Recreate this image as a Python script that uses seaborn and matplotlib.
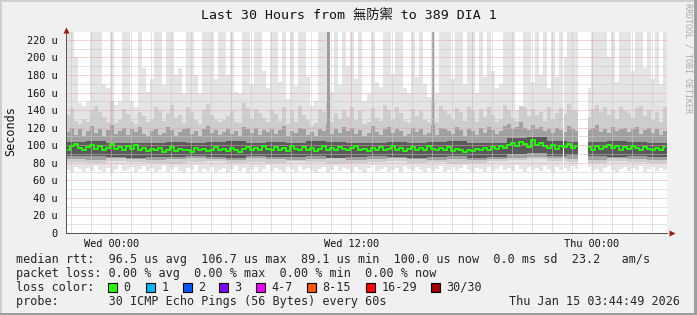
import numpy as np
import pandas as pd
import matplotlib
matplotlib.use('Agg')
import matplotlib.pyplot as plt
from matplotlib.patches import Rectangle
from matplotlib.ticker import MultipleLocator
import seaborn as sns

# ---------------- data ----------------
title = 'Last 30 Hours from 無防禦 to 389 DIA 1'
x_start = -2.25          # hours relative to Wed 00:00
x_end = 27.75
col_w = 0.2              # hours per smoke column
hour_w = 1.0
y_max = 229

xmajor = [0, 6, 12, 18, 24]
xmajor_labels = ['Wed 00:00', '', 'Wed 12:00', '', 'Thu 00:00']
ytick_vals = [0, 20, 40, 60, 80, 100, 120, 140, 160, 180, 200, 220]
ytick_labels = ['0', '20 u', '40 u', '60 u', '80 u', '100 u', '120 u',
                '140 u', '160 u', '180 u', '200 u', '220 u']

# median rtt (us) per column
med = [95, 99, 101, 97, 94, 98, 100, 96, 99, 95,
       97, 101, 96, 98, 94, 99, 96, 100, 95, 97,
       93, 96, 94, 97, 92, 95, 98, 93, 96, 94,
       95, 92, 97, 94, 96, 93, 95, 98, 94, 96,
       93, 97, 95, 92, 96, 98, 94, 97, 95, 99,
       96, 94, 98, 95, 97, 93, 99, 96, 94, 98,
       95, 97, 93, 96, 99, 95, 97, 94, 98, 96,
       94, 97, 99, 95, 96, 93, 97, 95, 98, 94,
       96, 99, 95, 97, 93, 96, 98, 94, 97, 95,
       99, 96, 94, 97, 95, 98, 93, 96, 94, 92,
       95, 93, 96, 94, 97, 95, 98, 96, 99, 97,
       100, 103, 99, 104, 101, 98, 106, 100, 102, 99,
       97, 100, 96, 99, 98, 101, 97, 99, np.nan, np.nan,
       98, 95, 99, 96, 98, 100, 97, 99, 95, 98,
       96, 99, 97, 95, 98, 96, 94, 97, 95, 98]

# highest ping per column
top = [229, 229, 200, 148, 145, 150, 229, 229, 229, 170,
       165, 229, 146, 150, 229, 229, 150, 144, 229, 188,
       161, 175, 229, 229, 169, 229, 229, 180, 188, 160,
       229, 229, 180, 160, 229, 229, 229, 175, 229, 229,
       180, 229, 161, 158, 229, 229, 170, 229, 229, 185,
       165, 229, 229, 172, 229, 153, 229, 168, 229, 229,
       178, 145, 150, 229, 229, 229, 161, 229, 169, 229,
       190, 229, 175, 229, 150, 158, 229, 172, 166, 229,
       229, 181, 229, 229, 165, 160, 229, 178, 229, 170,
       155, 229, 160, 229, 229, 229, 175, 229, 229, 170,
       229, 229, 160, 229, 178, 229, 185, 165, 170, 229,
       229, 229, 140, 136, 229, 229, 172, 229, 180, 229,
       165, 229, 178, 229, 200, 229, 229, 229, 160, 160,
       165, 229, 229, 229, 229, 200, 229, 172, 229, 229,
       229, 185, 229, 229, 188, 229, 175, 229, 170, 229]

# upper light-medium smoke per column
up2 = [135, 142, 128, 124, 130, 126, 140, 145, 138, 132,
       127, 150, 125, 129, 141, 136, 128, 124, 138, 133,
       126, 130, 144, 139, 128, 137, 146, 131, 134, 125,
       143, 138, 129, 124, 140, 147, 135, 130, 126, 129,
       133, 139, 127, 125, 148, 142, 130, 141, 137, 131,
       126, 140, 136, 128, 143, 124, 139, 127, 145, 134,
       129, 122, 125, 141, 138, 150, 127, 137, 130, 140,
       132, 144, 129, 139, 124, 127, 142, 131, 128, 146,
       140, 130, 143, 137, 128, 125, 141, 133, 139, 129,
       126, 152, 127, 145, 140, 136, 129, 142, 138, 128,
       144, 139, 126, 141, 132, 143, 134, 127, 130, 146,
       140, 131, 128, 145, 143, 133, 141, 135, 138, 128,
       144, 130, 137, 142, 136, 147, 140, 139, 130, 130,
       132, 141, 146, 138, 143, 135, 140, 130, 144, 139,
       137, 131, 142, 145, 133, 140, 129, 138, 127, 143]

# upper medium smoke per column
mid_hi = [115, 120, 112, 118, 110, 116, 122, 114, 119, 111,
          117, 123, 113, 116, 120, 112, 118, 115, 121, 113,
          110, 116, 119, 112, 114, 121, 117, 111, 115, 118,
          120, 113, 116, 110, 118, 122, 114, 117, 112, 115,
          119, 113, 116, 111, 121, 118, 114, 120, 112, 117,
          115, 119, 113, 117, 122, 111, 116, 114, 120, 118,
          112, 115, 110, 119, 116, 124, 113, 118, 114, 121,
          116, 120, 113, 117, 111, 114, 122, 115, 112, 119,
          121, 114, 118, 116, 111, 113, 120, 115, 119, 112,
          114, 123, 112, 120, 118, 116, 113, 121, 117, 111,
          119, 116, 112, 120, 114, 121, 117, 113, 116, 122,
          124, 118, 121, 126, 120, 117, 123, 119, 121, 116,
          118, 114, 120, 117, 115, 122, 119, 116, 115, 115,
          117, 120, 123, 115, 119, 114, 121, 116, 118, 120,
          115, 118, 121, 113, 117, 120, 114, 119, 112, 116]

# lowest ping per column
lo = [72, 70, 75, 73, 69, 74, 71, 76, 72, 70,
      74, 68, 73, 77, 71, 72, 75, 70, 73, 76,
      71, 74, 69, 72, 76, 70, 73, 75, 71, 68,
      74, 72, 77, 70, 73, 71, 75, 69, 72, 74,
      70, 73, 76, 71, 74, 68, 72, 75, 70, 73,
      77, 71, 74, 72, 69, 75, 73, 70, 76, 72,
      74, 71, 68, 73, 75, 70, 72, 76, 71, 74,
      73, 69, 75, 72, 70, 74, 77, 71, 73, 75,
      70, 72, 74, 69, 76, 73, 71, 75, 72, 70,
      74, 71, 73, 76, 70, 72, 75, 71, 74, 77,
      72, 70, 74, 73, 69, 75, 71, 73, 76, 72,
      74, 71, 77, 73, 70, 75, 72, 74, 71, 76,
      73, 70, 75, 72, 74, 71, 76, 73, 72, 72,
      75, 71, 73, 70, 74, 76, 72, 69, 73, 75,
      71, 74, 72, 76, 70, 73, 75, 71, 74, 72]

# hourly smoke layers
mid_lo = [81, 80, 82, 81, 80, 79, 81, 82, 80, 81, 80, 82, 81, 79, 80,
          81, 82, 80, 81, 79, 80, 82, 83, 84, 82, 81, 80, 82, 81, 80]
c_lo = [84, 83, 85, 84, 83, 84, 85, 84, 83, 85, 84, 83, 84, 85, 83,
        84, 85, 84, 83, 84, 83, 84, 86, 87, 85, 84, 83, 85, 84, 83]
core_lo = [88, 88, 87, 86, 87, 87, 88, 87, 86, 88, 87, 87, 88, 86, 87,
           88, 87, 86, 87, 88, 86, 87, 90, 91, 88, 89, 88, 87, 88, 87]
core_hi = [104, 105, 103, 102, 103, 104, 103, 104, 105, 103, 104, 103, 105, 104, 102,
           103, 104, 103, 104, 105, 103, 102, 108, 109, 105, 104, 104, 105, 104, 103]

# isolated darker bursts
spike_t = [10.83, 16.07]
spike_w = [0.15, 0.08]
spike_lo = [108, 110]
spike_hi = [229, 229]

# missing data intervals (hours)
gap_start = [22.58, 23.30]
gap_end = [22.63, 23.80]

legend_line1 = 'median rtt:  96.5 us avg  106.7 us max  89.1 us min  100.0 us now  0.0 ms sd  23.2   am/s'
legend_line2 = 'packet loss: 0.00 % avg  0.00 % max  0.00 % min  0.00 % now'
legend_line3 = 'loss color:'
legend_line4 = 'probe:       30 ICMP Echo Pings (56 Bytes) every 60s'
timestamp = 'Thu Jan 15 03:44:49 2026'
loss_labels = ['0', '1', '2', '3', '4-7', '8-15', '16-29', '30/30']
loss_colors = ['#26ff00', '#00b8ff', '#0059ff', '#7e00ff', '#ee00ff',
               '#ff5500', '#ff0000', '#a10000']

# ---------------- style ----------------
sns.set_style('white')
MONO = ['DejaVu Sans Mono', 'Noto Sans CJK TC']
plt.rcParams['font.family'] = MONO
plt.rcParams['axes.unicode_minus'] = False

W, H = 697, 315
fig = plt.figure(figsize=(W / 100, H / 100), dpi=100)
fig.patch.set_facecolor('#f0f0f0')

def fx(x):
    return x / W

def fy(y):
    return 1 - y / H

ax = fig.add_axes([fx(66), fy(233), 601 / W, 201 / H])
ax.set_facecolor('white')

n = len(top)
t_cols = x_start + col_w * np.arange(n) + col_w / 2
top_a = np.array(top, float)
up2_a = np.array(up2, float)
mid_hi_a = np.array(mid_hi, float)
lo_a = np.array(lo, float)
k = int(round(hour_w / col_w))
mid_lo_a = np.repeat(np.array(mid_lo, float), k)
c_lo_a = np.repeat(np.array(c_lo, float), k)
core_lo_a = np.repeat(np.array(core_lo, float), k)
core_hi_a = np.repeat(np.array(core_hi, float), k)

bar_kw = dict(width=col_w, linewidth=0, align='center')
ax.bar(t_cols, top_a - lo_a, bottom=lo_a, color='#e4e4e4', zorder=1.0, **bar_kw)
ax.bar(t_cols, up2_a - mid_lo_a, bottom=mid_lo_a, color='#cdcdcd', zorder=1.1, **bar_kw)
ax.bar(spike_t, np.array(spike_hi) - np.array(spike_lo), bottom=spike_lo,
       width=spike_w, color='#9c9c9c', linewidth=0, zorder=1.15)
ax.bar(t_cols, mid_hi_a - c_lo_a, bottom=c_lo_a, color='#a0a0a0', zorder=1.2, **bar_kw)
ax.bar(t_cols, core_hi_a - core_lo_a, bottom=core_lo_a, color='#5a5a5a', zorder=1.3, **bar_kw)

for gs, ge in zip(gap_start, gap_end):
    ax.axvspan(gs, ge, color='white', lw=0, zorder=1.5)

df = pd.DataFrame({'t': t_cols, 'rtt': med})
df['seg'] = df['rtt'].isna().cumsum()
df = df.dropna()
sns.lineplot(data=df, x='t', y='rtt', units='seg', estimator=None,
             color='#22ff00', lw=1.4, drawstyle='steps-mid', ax=ax,
             legend=False, zorder=3)

ax.set_xlim(x_start, x_end)
ax.set_ylim(0, y_max)
ax.set_xlabel('')
ax.set_ylabel('')

ax.set_xticks(xmajor, labels=xmajor_labels)
ax.xaxis.set_minor_locator(MultipleLocator(1))
ax.set_yticks(ytick_vals, labels=ytick_labels)
ax.yaxis.set_minor_locator(MultipleLocator(10))

ax.set_axisbelow(False)
ax.grid(which='major', color='#e4a8a8', linestyle=(0, (1, 1)), linewidth=0.72)
ax.grid(which='minor', color='#c8c8c8', linestyle=(0, (1, 1)), linewidth=0.72)

ax.tick_params(axis='both', which='major', direction='out', length=2.2, width=0.72,
               color='#555555', labelsize=7.4, labelcolor='#111111')
ax.tick_params(axis='both', which='minor', direction='out', length=1.4, width=0.72,
               color='#555555')
ax.tick_params(axis='y', which='major', pad=3.6)
ax.tick_params(axis='x', which='major', pad=2.0)
for lab in ax.get_xticklabels() + ax.get_yticklabels():
    lab.set_family('DejaVu Sans Mono')

for side in ['top', 'right']:
    ax.spines[side].set_visible(False)
for side in ['left', 'bottom']:
    ax.spines[side].set_color('#555555')
    ax.spines[side].set_linewidth(0.72)
    ax.spines[side].set_zorder(4)

# axis arrows
ax.plot([0], [1 + 2.5 / 201], marker='^', ms=4.5, color='#9b1c1c',
        transform=ax.transAxes, clip_on=False, zorder=5, mec='none')
ax.plot([1 + 4.5 / 601], [0], marker='>', ms=4.5, color='#9b1c1c',
        transform=ax.transAxes, clip_on=False, zorder=5, mec='none')

# title and side texts
fig.text(fx(348.5), fy(19.5), title, ha='center', va='baseline',
         fontsize=9.5, family=MONO, color='#111111')
fig.text(fx(11), fy(131), 'Seconds', rotation=90, ha='center', va='center',
         fontsize=8.5, family=MONO, color='#111111')
fig.text(fx(688), fy(58), 'RRDTOOL / TOBI OETIKER', rotation=270,
         ha='center', va='center', fontsize=6.0, family=MONO, color='#a8a8a8')

# legend block
fs = 8.5
fig.text(fx(16), fy(263.3), legend_line1, ha='left', va='baseline', fontsize=fs, family=MONO)
fig.text(fx(16), fy(277.3), legend_line2, ha='left', va='baseline', fontsize=fs, family=MONO)
fig.text(fx(16), fy(290.7), legend_line3, ha='left', va='baseline', fontsize=fs, family=MONO)
fig.text(fx(16), fy(305.0), legend_line4, ha='left', va='baseline', fontsize=fs, family=MONO)
fig.text(fx(680), fy(305.0), timestamp, ha='right', va='baseline', fontsize=fs, family=MONO)

box_x = [108, 146, 183, 219, 256, 307, 366, 431]
for bx, lab, c in zip(box_x, loss_labels, loss_colors):
    fig.add_artist(Rectangle((fx(bx), fy(291.5)), 9 / W, 9 / H, facecolor=c,
                             edgecolor='black', lw=0.8, transform=fig.transFigure))
    fig.text(fx(bx + 15.5), fy(290.7), lab, ha='left', va='baseline',
             fontsize=fs, family=MONO)

# 3D frame
fig.add_artist(Rectangle((0, fy(2)), 1, 2 / H, facecolor='#cfcfcf', lw=0, transform=fig.transFigure))
fig.add_artist(Rectangle((0, 0), 2 / W, 1, facecolor='#cfcfcf', lw=0, transform=fig.transFigure))
fig.add_artist(Rectangle((0, 0), 1, 2.5 / H, facecolor='#9e9e9e', lw=0, transform=fig.transFigure))
fig.add_artist(Rectangle((fx(694), 0), 3 / W, 1, facecolor='#9e9e9e', lw=0, transform=fig.transFigure))

fig.savefig('out.png', dpi=100, facecolor=fig.get_facecolor())
